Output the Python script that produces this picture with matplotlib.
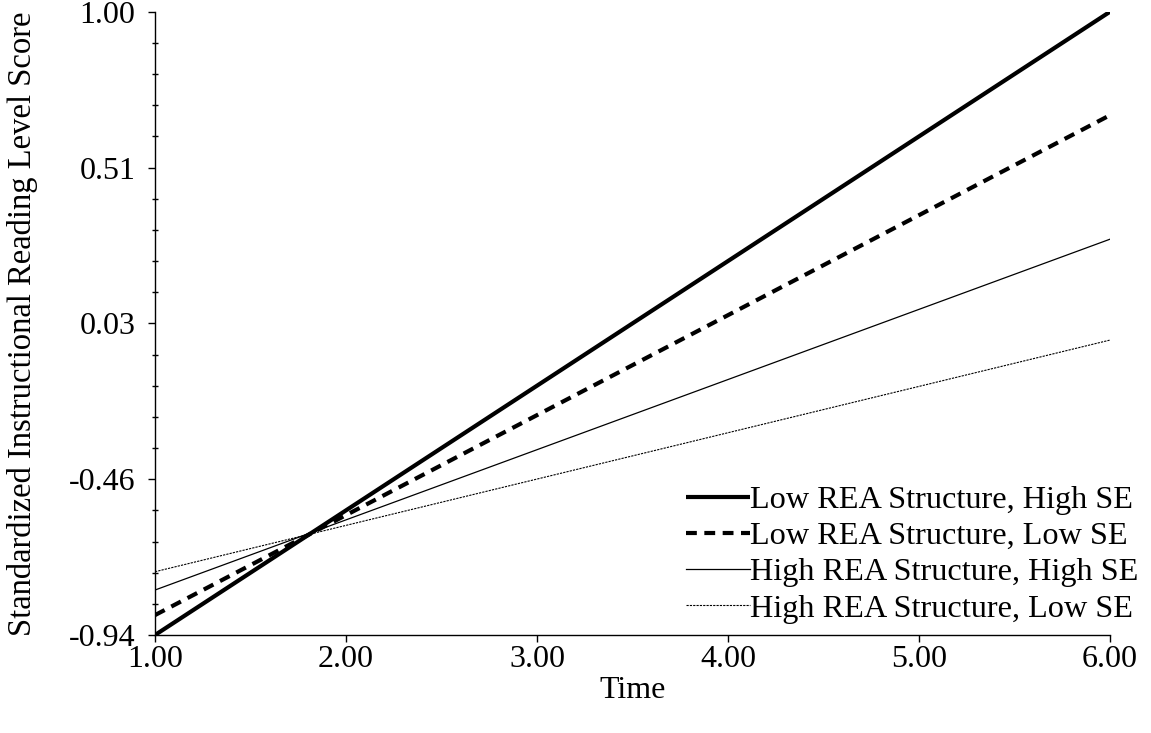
import numpy as np
import matplotlib
matplotlib.use('Agg')
import matplotlib.pyplot as plt
from matplotlib.ticker import FixedLocator

plt.rcParams['font.family'] = ['Liberation Serif', 'DejaVu Serif']

# ── Data: predicted values at Time = 1 and Time = 6 ───────────────
time = [1.0, 6.0]
low_rea_high_se = [-0.94, 1.00]
low_rea_low_se = [-0.878, 0.678]
high_rea_high_se = [-0.80, 0.292]
high_rea_low_se = [-0.743, -0.022]

y_ticks = [-0.94, -0.455, 0.03, 0.515, 1.00]
y_tick_labels = ['-0.94', '-0.46', '0.03', '0.51', '1.00']
x_ticks = [1, 2, 3, 4, 5, 6]
x_tick_labels = ['1.00', '2.00', '3.00', '4.00', '5.00', '6.00']

fig = plt.figure(figsize=(11.51, 7.33), dpi=100)
ax = fig.add_axes([0.1347, 0.1337, 0.9644 - 0.1347, 0.984 - 0.1337])

ax.plot(time, low_rea_high_se, color='black', linewidth=3.0,
        solid_capstyle='butt', label='Low REA Structure, High SE')
ax.plot(time, low_rea_low_se, color='black', linewidth=3.0,
        linestyle=(0, (2.6, 1.8)), dash_capstyle='butt',
        label='Low REA Structure, Low SE')
ax.plot(time, high_rea_high_se, color='black', linewidth=0.9,
        label='High REA Structure, High SE')
ax.plot(time, high_rea_low_se, color='black', linewidth=0.8,
        linestyle=(0, (2, 1)), label='High REA Structure, Low SE')

ax.set_xlim(1, 6)
ax.set_ylim(-0.94, 1.00)

ax.spines['top'].set_visible(False)
ax.spines['right'].set_visible(False)
ax.spines['left'].set_linewidth(1.0)
ax.spines['bottom'].set_linewidth(1.0)

ax.set_xticks(x_ticks)
ax.set_xticklabels(x_tick_labels)
ax.set_yticks(y_ticks)
ax.set_yticklabels(y_tick_labels)
minor = []
for lo, hi in zip(y_ticks[:-1], y_ticks[1:]):
    step = (hi - lo) / 5
    minor += [lo + step * k for k in range(1, 5)]
ax.yaxis.set_minor_locator(FixedLocator(minor))

ax.tick_params(axis='both', which='major', direction='out', length=5,
               width=1.0, labelsize=23, color='black')
ax.tick_params(axis='x', which='major', pad=2)
ax.tick_params(axis='y', which='major', pad=9)
ax.tick_params(axis='y', which='minor', direction='inout', length=5, width=1.0)

ax.set_xlabel('Time', fontsize=23, labelpad=2)
ax.set_ylabel('Standardized Instructional Reading Level Score', fontsize=23.5,
              labelpad=22)

ax.legend(loc='lower right', bbox_to_anchor=(1.05, -0.013), frameon=False,
          fontsize=23.2, handlelength=2.0, handletextpad=0.0,
          labelspacing=0.21, borderaxespad=0.2)

fig.savefig('out.png', dpi=100, facecolor='white')
